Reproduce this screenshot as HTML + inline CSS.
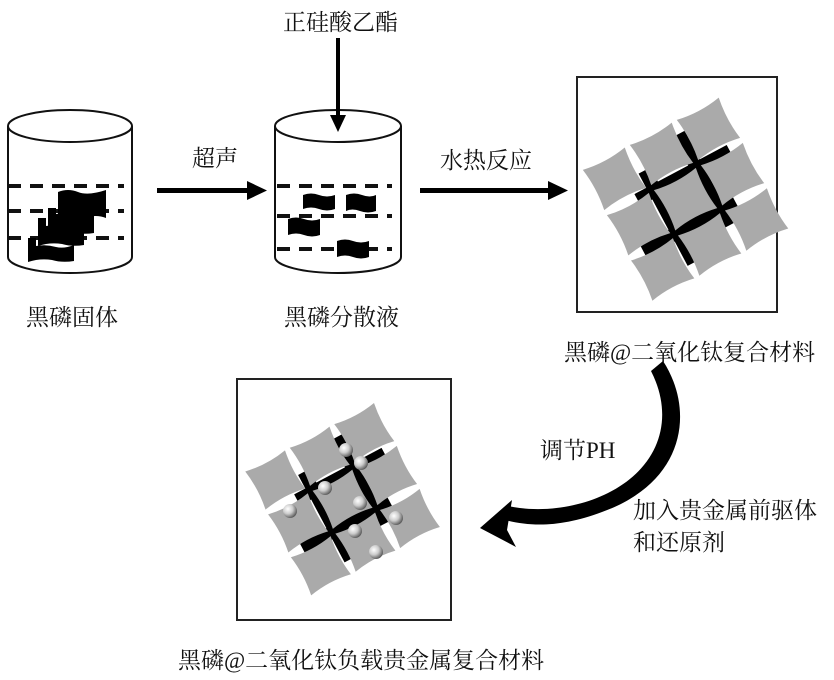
<!DOCTYPE html>
<html><head><meta charset="utf-8"><style>
html,body{margin:0;padding:0;background:#fff;}
svg{display:block;}
text{font-family:"Liberation Serif","Noto Serif CJK SC",serif;fill:#111;font-size:23px;}
</style></head><body>
<svg width="834" height="680" viewBox="0 0 834 680" xmlns="http://www.w3.org/2000/svg">
<defs>
<radialGradient id="ball" cx="0.35" cy="0.35" r="0.7">
<stop offset="0" stop-color="#fff"/><stop offset="0.5" stop-color="#ccc"/><stop offset="1" stop-color="#555"/>
</radialGradient>
<path id="tile" d="M0,0 q25,5 50,0 q-4,25 0,48 q-25,-5 -50,0 q4,-24 0,-48 z" fill="#aaa"/>
<g id="lattice" transform="rotate(-28)">
<g fill="#000">
<rect x="-45" y="-31" width="110" height="14"/>
<rect x="-65" y="19" width="110" height="14"/>
<rect x="-31" y="-48" width="14" height="110"/>
<rect x="19" y="-65" width="14" height="110"/>
</g>
<use href="#tile" x="-81" y="-79"/><use href="#tile" x="-25" y="-79"/><use href="#tile" x="31" y="-79"/>
<use href="#tile" x="-81" y="-25"/><use href="#tile" x="-25" y="-25"/><use href="#tile" x="31" y="-25"/>
<use href="#tile" x="-81" y="29"/><use href="#tile" x="-25" y="29"/><use href="#tile" x="31" y="29"/>
</g>
</defs>

<!-- Cylinder 1 -->
<g fill="none" stroke="#111" stroke-width="2">
<ellipse cx="70" cy="126" rx="62" ry="16" fill="#fff"/>
<path d="M8,126 L8,257 A62,16 0 0 0 132,257 L132,126"/>
</g>
<g stroke="#111" stroke-width="4" stroke-dasharray="13,9">
<line x1="8" y1="186" x2="124" y2="186"/>
<line x1="8" y1="211" x2="124" y2="211"/>
<line x1="8" y1="238" x2="124" y2="238"/>
</g>
<g fill="#000">
<path d="M58,192 q10,-4 20,0 q10,4 28,-2 l0,28 q-10,-4 -22,0 q-12,4 -26,0 z"/>
<path d="M48,208 l8,0 l0,6 q10,-2 20,1 q8,2 18,-2 l0,20 q-12,2 -22,-1 q-12,-2 -24,2 z"/>
<path d="M38,218 l8,0 l0,8 q10,-2 20,1 q8,2 18,-2 l0,20 q-12,2 -22,-1 q-12,-2 -24,2 z"/>
<path d="M28,238 l8,0 l0,8 q10,-2 20,1 q8,2 18,-2 l0,16 q-12,2 -22,-1 q-12,-2 -24,2 z"/>
</g>

<!-- Arrow 1 -->
<rect x="157" y="188" width="92" height="5" fill="#000"/>
<path d="M247,181 L267,190.5 L247,200 z" fill="#000"/>
<text x="192" y="166">超声</text>

<!-- Cylinder 2 -->
<g fill="none" stroke="#111" stroke-width="2">
<ellipse cx="338" cy="126" rx="63" ry="16" fill="#fff"/>
<path d="M275,126 L275,257 A63,16 0 0 0 401,257 L401,126"/>
</g>
<g stroke="#111" stroke-width="4" stroke-dasharray="13,9">
<line x1="277" y1="186" x2="392" y2="186"/>
<line x1="277" y1="216" x2="392" y2="216"/>
<line x1="277" y1="249" x2="392" y2="249"/>
</g>
<g fill="#000">
<path d="M303,195 q8,-3 16,0 q8,3 16,0 l0,14 q-8,3 -16,0 q-8,-3 -16,0 z"/>
<path d="M346,195 q8,-3 16,0 q8,3 14,0 l0,16 q-8,3 -16,0 q-8,-3 -14,0 z"/>
<path d="M288,219 q8,-3 16,0 q8,3 16,0 l0,16 q-8,3 -16,0 q-8,-3 -16,0 z"/>
<path d="M337,241 q8,-3 16,0 q8,3 16,0 l0,16 q-8,3 -16,0 q-8,-3 -16,0 z"/>
</g>
<rect x="336" y="38" width="4" height="80" fill="#000"/>
<path d="M330,115 L338,132 L346,115 z" fill="#000"/>
<text x="283" y="30">正硅酸乙酯</text>

<!-- Arrow 2 -->
<rect x="420" y="188" width="130" height="5" fill="#000"/>
<path d="M548,181 L568,190.5 L548,200 z" fill="#000"/>
<text x="440" y="168">水热反应</text>

<!-- Box 1 -->
<rect x="577" y="77" width="200" height="235" fill="none" stroke="#222" stroke-width="2"/>
<use href="#lattice" transform="translate(686,200) scale(0.95)"/>

<text x="26" y="325">黑磷固体</text>
<text x="284" y="325">黑磷分散液</text>
<text x="564" y="360">黑磷@二氧化钛复合材料</text>

<!-- Curved arrow -->
<path d="M651,371 L663,361 C695,410 686,482 602,512 C562,527 532,527 505,520 L508,506 C540,513 578,508 608,493 C658,468 676,420 651,371 z" fill="#000"/>
<path d="M480,528 L512,500 L507,530 L516,547 z" fill="#000"/>
<text x="540" y="458">调节PH</text>
<text x="633" y="518">加入贵金属前驱体</text>
<text x="633" y="550">和还原剂</text>

<!-- Box 2 -->
<rect x="237" y="379" width="214" height="241" fill="none" stroke="#222" stroke-width="2"/>
<use href="#lattice" transform="translate(343,500) scale(0.9)"/>
<g fill="url(#ball)">
<circle cx="346" cy="450" r="7"/><circle cx="361" cy="463" r="7"/>
<circle cx="325" cy="488" r="7"/><circle cx="360" cy="503" r="7"/>
<circle cx="290" cy="511" r="7"/><circle cx="396" cy="518" r="7"/>
<circle cx="355" cy="531" r="7"/><circle cx="376" cy="552" r="7"/>
</g>
<text x="178" y="668">黑磷@二氧化钛负载贵金属复合材料</text>
</svg>
</body></html>
